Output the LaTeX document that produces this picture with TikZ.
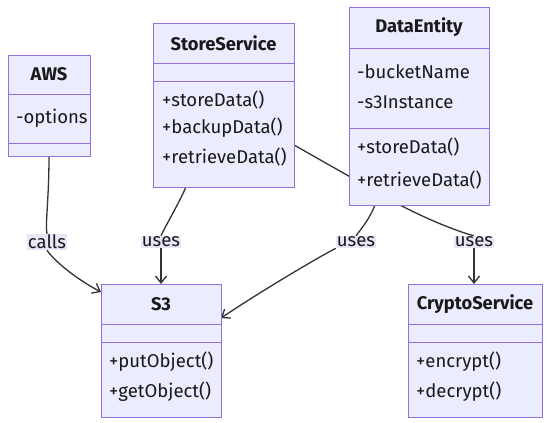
\documentclass[tikz,border=0pt]{standalone}
\usepackage{fontspec}
\setmainfont{Fira Sans}
\usetikzlibrary{arrows.meta,fit}
\definecolor{boxfill}{HTML}{ECECFF}
\definecolor{boxdraw}{HTML}{9370DB}
\definecolor{edgecol}{HTML}{333333}
\definecolor{lblfill}{HTML}{E6E6F6}
\tikzset{
  umlbox/.style={draw=boxdraw, fill=boxfill, line width=1pt, inner sep=0pt},
  divline/.style={draw=boxdraw, line width=1pt},
  ttl/.style={font=\fontsize{18.3}{21}\selectfont\bfseries, text=black!90, inner sep=0pt},
  mem/.style={font=\fontsize{18.5}{21}\selectfont, text=black!90, anchor=west, inner sep=0pt},
  edge/.style={draw=edgecol, line width=1.3pt},
  arr/.style={-{Straight Barb[length=7pt,width=11pt,line width=1.3pt]}},
  lbl/.style={fill=lblfill, font=\fontsize{18.5}{21}\selectfont, text=black!90, inner sep=1pt}
}
\newcommand\myumlbox[7]{%
  \node[umlbox, fit={(#2,#3)(#4,#5)}] (#1) {};
  \draw[divline] (#1.west |- 0,#6) -- (#1.east |- 0,#6);
  \draw[divline] (#1.west |- 0,#7) -- (#1.east |- 0,#7);
}
\begin{document}
\begin{tikzpicture}[x=1pt,y=-1pt]
\useasboundingbox[fill=white] (0,0) rectangle (550,423);
% label nodes first (positions), edges drawn behind boxes
\node[lbl] (lcalls) at (47,242) {calls};
\node[lbl] (luses1) at (161,242) {uses};
\node[lbl] (luses2) at (356,242) {uses};
\node[lbl] (luses3) at (474,242) {uses};
\coordinate (awsOut) at (49,156);
\coordinate (s3InA) at (101,292);
\coordinate (ssOut) at (186,187);
\coordinate (s3InB) at (161,284);
\coordinate (deOut) at (375,205);
\coordinate (s3InC) at (221,318);
\coordinate (ssOut2) at (294,145);
\coordinate (csIn) at (474,284);
% edges
\draw[edge] (awsOut) .. controls (49,200) and (45,225) .. (lcalls.north);
\draw[edge,arr] (lcalls.south) .. controls (55,262) and (78,280) .. (s3InA);
\draw[edge] (ssOut) .. controls (178,205) and (166,225) .. (luses1.north);
\draw[edge,arr] (luses1.south) -- (s3InB);
\draw[edge] (deOut) .. controls (370,218) and (362,228) .. (luses2.north);
\draw[edge,arr] (luses2.south west) .. controls (310,262) and (260,292) .. (s3InC);
\draw[edge] (ssOut2) -- (398,204) .. controls (440,226) and (470,235) .. (luses3.north);
\draw[edge,arr] (luses3.south) -- (csIn);
% redraw labels above edges
\node[lbl] at (lcalls) {calls};
\node[lbl] at (luses1) {uses};
\node[lbl] at (luses2) {uses};
\node[lbl] at (luses3) {uses};
% boxes
\myumlbox{aws}{8}{55}{90}{156}{94}{143}
\node[ttl] (awsT) at (49,74) {AWS};
\node[mem] (awsA) at (16,118) {-options};

\myumlbox{ss}{153}{23}{294}{187}{63}{81}
\node[ttl] (ssT) at (223.5,43) {StoreService};
\node[mem] (ssM1) at (162,100) {+storeData()};
\node[mem] (ssM2) at (162,128) {+backupData()};
\node[mem] (ssM3) at (162,157) {+retrieveData()};

\myumlbox{de}{349}{7}{489}{205}{48}{128}
\node[ttl] (deT) at (419,27) {DataEntity};
\node[mem] (deA1) at (357,72) {-bucketName};
\node[mem] (deA2) at (357,102) {-s3Instance};
\node[mem] (deM1) at (357,147) {+storeData()};
\node[mem] (deM2) at (357,180) {+retrieveData()};

\myumlbox{s3}{101}{284}{221}{417}{324}{342}
\node[ttl] (s3T) at (161,304) {S3};
\node[mem] (s3M1) at (109,362) {+putObject()};
\node[mem] (s3M2) at (109,392) {+getObject()};

\myumlbox{cs}{408}{284}{542}{417}{324}{342}
\node[ttl] (csT) at (475,304) {CryptoService};
\node[mem] (csM1) at (416,362) {+encrypt()};
\node[mem] (csM2) at (416,392) {+decrypt()};
\end{tikzpicture}
\end{document}
